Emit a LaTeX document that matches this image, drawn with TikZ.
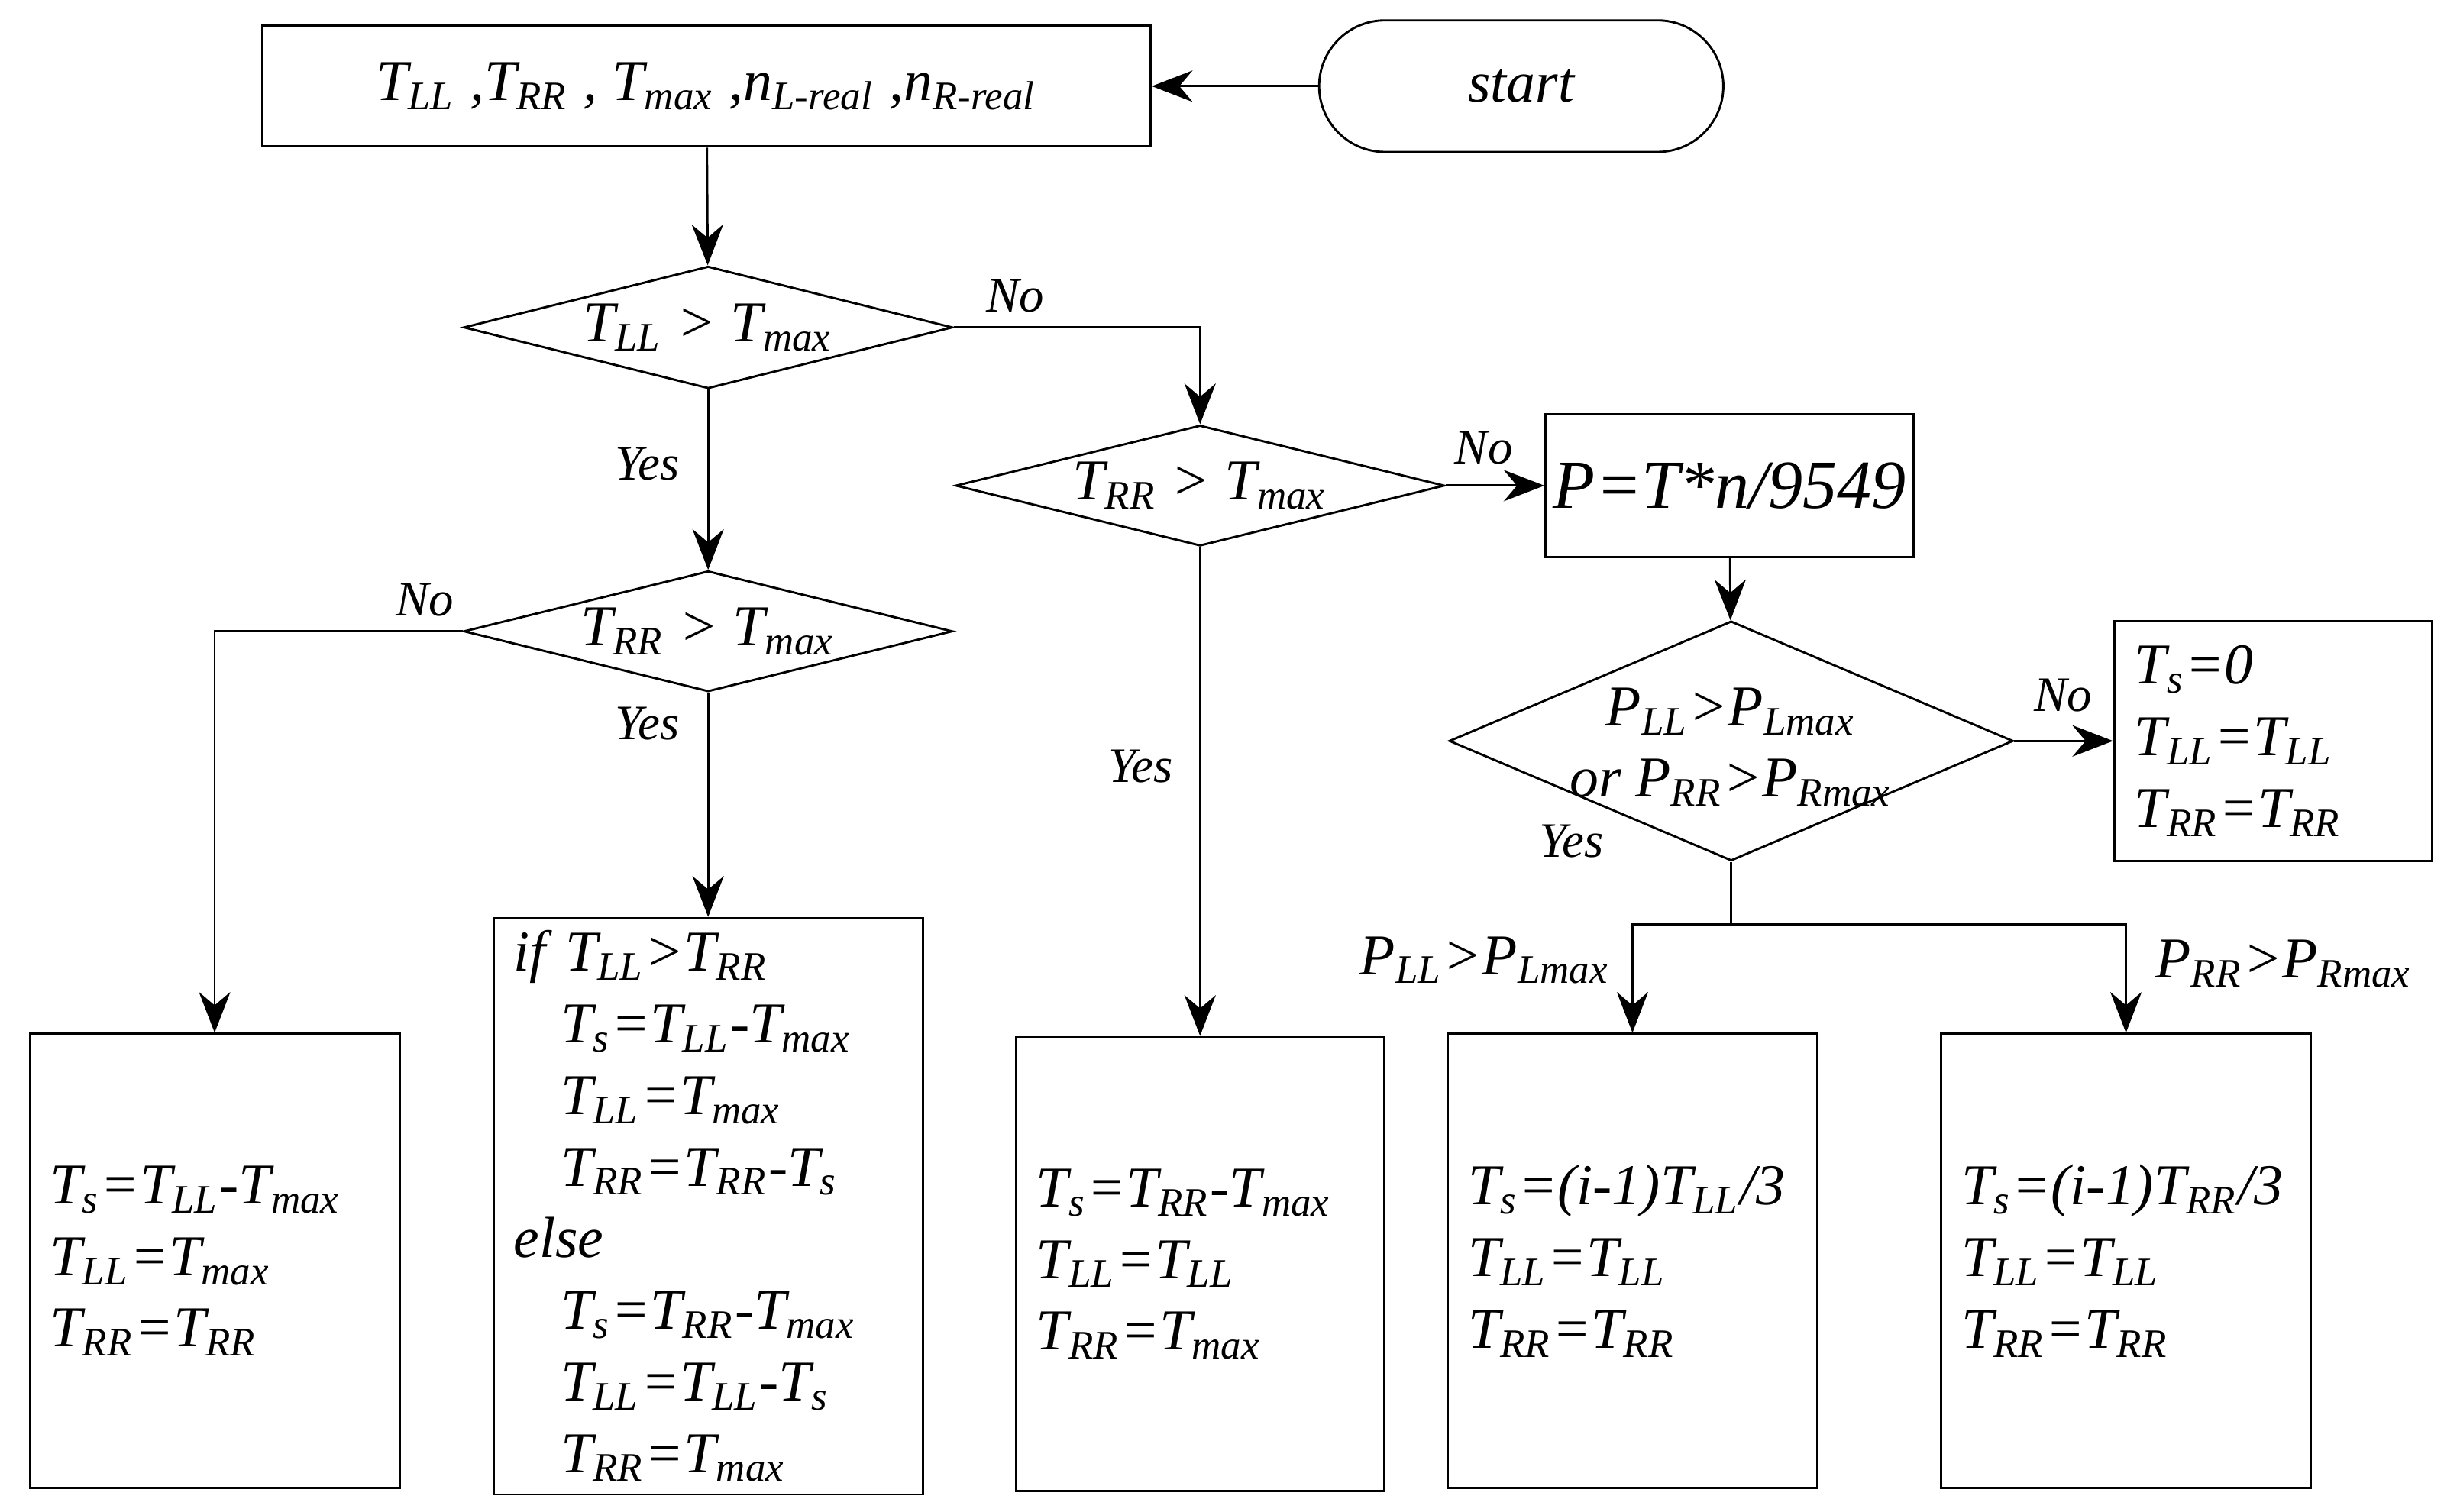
\documentclass[tikz,border=0pt]{standalone}
\usepackage{fontspec}
\setmainfont{Liberation Serif}
\usetikzlibrary{arrows.meta, shapes.geometric, calc}
\newcommand{\idx}[2]{#1\textsubscript{#2}}
\tikzset{
  flowArrow/.style={-{Stealth[length=2.6mm,width=2mm]}, thin},
  procBox/.style={draw, thin, rectangle, inner sep=0pt, font=\fontsize{10.5}{13}\selectfont\itshape},
  textBox/.style args={#1 and #2}{procBox, minimum width=#1, minimum height=#2,
    align=left, text width=#1-2.6mm, inner xsep=1.3mm},
  decision/.style args={#1 and #2}{draw, thin, diamond, aspect=4, inner sep=0pt,
    minimum width=#1, minimum height=#2, font=\fontsize{10.5}{13}\selectfont\itshape, align=center},
  branchLabel/.style={font=\fontsize{9}{11}\selectfont\itshape}
}
\begin{document}
\begin{tikzpicture}[x=0.1mm, y=-0.1mm]
  \useasboundingbox (0,0) rectangle (1560,965);

  %% --- inicio e leitura ---
  \node[procBox, rounded corners=4.2mm, minimum width=25.8mm, minimum height=8.4mm] (start) at (971,55) {start};
  \node[procBox, minimum width=56.7mm, minimum height=7.7mm] (input) at (451,55)
    {\idx{T}{LL} ,\idx{T}{RR} , \idx{T}{max} ,\idx{n}{L-real} ,\idx{n}{R-real}};

  %% --- decisoes ---
  \node[decision=31.2mm and 7.8mm] (dLL) at (452,209) {\idx{T}{LL} > \idx{T}{max}};
  \node[decision=31.2mm and 7.7mm] (dRRa) at (766,310) {\idx{T}{RR} > \idx{T}{max}};
  \node[decision=31.2mm and 7.7mm] (dRRb) at (452,403) {\idx{T}{RR} > \idx{T}{max}};
  \node[procBox, minimum width=23.5mm, minimum height=9.1mm, font=\fontsize{12.5}{15}\selectfont\itshape] (power) at (1104,310) {P=T*n/9549};
  \node[decision=36mm and 15.3mm] (dP) at (1105,473) {};
  \node[font=\fontsize{10.5}{13}\selectfont\itshape, align=center] (dPtext) at (1105,477)
    {\idx{P}{LL}>\idx{P}{Lmax}\\ or \idx{P}{RR}>\idx{P}{Rmax}};

  %% --- caixas de resultado ---
  \node[textBox=20.3mm and 15.3mm] (zero) at (1451,473)
    {\idx{T}{s}=0\\ \idx{T}{LL}=\idx{T}{LL}\\ \idx{T}{RR}=\idx{T}{RR}};
  \node[textBox=23.6mm and 29mm] (boxA) at (137,805)
    {\idx{T}{s}=\idx{T}{LL}-\idx{T}{max}\\ \idx{T}{LL}=\idx{T}{max}\\ \idx{T}{RR}=\idx{T}{RR}};
  \node[textBox=27.4mm and 36.8mm] (boxB) at (452,770)
    {if \idx{T}{LL}>\idx{T}{RR}\\
     \hspace*{3mm}\idx{T}{s}=\idx{T}{LL}-\idx{T}{max}\\
     \hspace*{3mm}\idx{T}{LL}=\idx{T}{max}\\
     \hspace*{3mm}\idx{T}{RR}=\idx{T}{RR}-\idx{T}{s}\\
     else\\
     \hspace*{3mm}\idx{T}{s}=\idx{T}{RR}-\idx{T}{max}\\
     \hspace*{3mm}\idx{T}{LL}=\idx{T}{LL}-\idx{T}{s}\\
     \hspace*{3mm}\idx{T}{RR}=\idx{T}{max}};
  \node[textBox=23.5mm and 29mm] (boxC) at (766,807)
    {\idx{T}{s}=\idx{T}{RR}-\idx{T}{max}\\ \idx{T}{LL}=\idx{T}{LL}\\ \idx{T}{RR}=\idx{T}{max}};
  \node[textBox=23.6mm and 29mm] (boxD) at (1042,805)
    {\mbox{\idx{T}{s}=(i-1)\idx{T}{LL}/3}\\ \idx{T}{LL}=\idx{T}{LL}\\ \idx{T}{RR}=\idx{T}{RR}};
  \node[textBox=23.6mm and 29mm] (boxE) at (1357,805)
    {\mbox{\idx{T}{s}=(i-1)\idx{T}{RR}/3}\\ \idx{T}{LL}=\idx{T}{LL}\\ \idx{T}{RR}=\idx{T}{RR}};

  %% --- ligacoes ---
  \draw[flowArrow] (start) -- (input);
  \draw[flowArrow] (input) -- (dLL);
  \draw[flowArrow] (dLL.east) -| (dRRa.north);
  \draw[flowArrow] (dLL) -- (dRRb);
  \draw[flowArrow] (dRRb.west) -| (boxA.north);
  \draw[flowArrow] (dRRb) -- (boxB);
  \draw[flowArrow] (dRRa) -- (power);
  \draw[flowArrow] (dRRa) -- (boxC);
  \draw[flowArrow] (power) -- (dP);
  \draw[flowArrow] (dP.east) -- (zero.west);
  \coordinate (split) at (1105,590);
  \draw (dP.south) -- (split);
  \draw[flowArrow] (split) -| (boxD.north);
  \draw[flowArrow] (split) -| (boxE.north);

  %% --- rotulos ---
  \node[branchLabel] (noA) at (648,189) {No};
  \node[branchLabel] (yesA) at (413,296) {Yes};
  \node[branchLabel] (noB) at (271,383) {No};
  \node[branchLabel] (yesB) at (413,462) {Yes};
  \node[branchLabel] (noC) at (947,286) {No};
  \node[branchLabel] (yesC) at (728,489) {Yes};
  \node[branchLabel] (noD) at (1317,444) {No};
  \node[branchLabel] (yesD) at (1003,537) {Yes};
  \node[font=\fontsize{10.5}{13}\selectfont\itshape] (condL) at (948,613) {\idx{P}{LL}>\idx{P}{Lmax}};
  \node[font=\fontsize{10.5}{13}\selectfont\itshape] (condR) at (1458,615) {\idx{P}{RR}>\idx{P}{Rmax}};
\end{tikzpicture}
\end{document}
